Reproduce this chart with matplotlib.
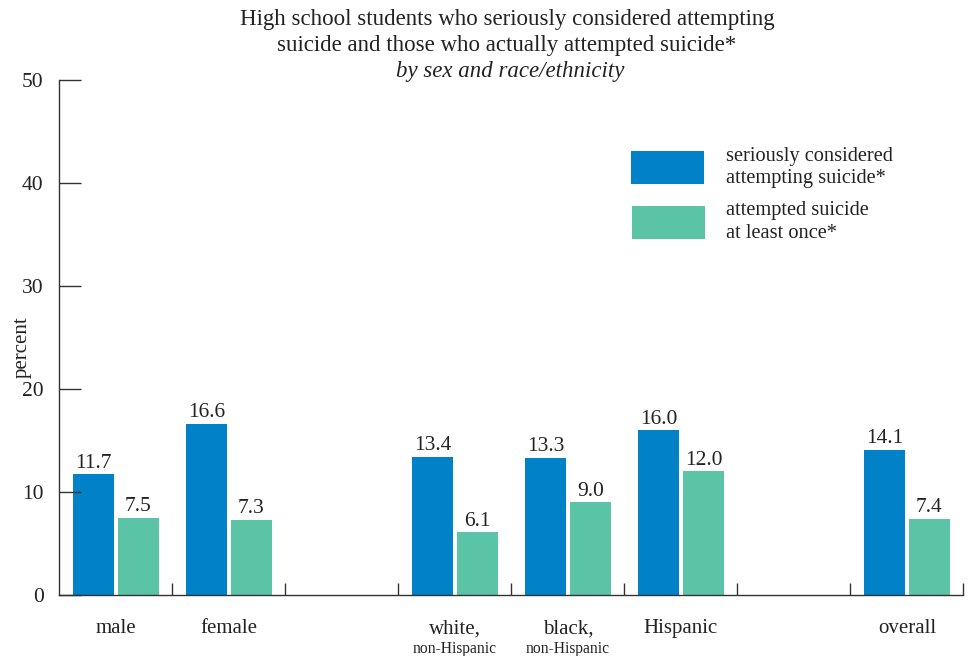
import matplotlib
matplotlib.use("Agg")
import matplotlib.pyplot as plt
from matplotlib.patches import Rectangle

categories = ["male", "female", "white,", "black,", "Hispanic", "overall"]
sublabels = ["", "", "non-Hispanic", "non-Hispanic", "", ""]
slots = [0, 1, 3, 4, 5, 7]
considered = [11.7, 16.6, 13.4, 13.3, 16.0, 14.1]
attempted = [7.5, 7.3, 6.1, 9.0, 12.0, 7.4]
yticks = [0, 10, 20, 30, 40, 50]

BLUE = "#0081C8"
GREEN = "#5BC4A6"
TXT = "#222222"
FONT = "Liberation Serif"

plt.rcParams["font.family"] = FONT
fig = plt.figure(figsize=(9.71, 6.56), dpi=100)
ax = fig.add_axes([59/971, 1-595/656, (963-59)/971, (595-80)/656])

bw = 0.363
off1 = 0.124
off2 = 0.522
for s, v1, v2 in zip(slots, considered, attempted):
    ax.bar(s + off1, v1, width=bw, align="edge", color=BLUE, linewidth=0)
    ax.bar(s + off2, v2, width=bw, align="edge", color=GREEN, linewidth=0)
    ax.text(s + off1 + bw/2, v1 + 0.15, f"{v1:.1f}", ha="center", va="bottom",
            fontsize=15.5, color=TXT)
    ax.text(s + off2 + bw/2, v2 + 0.15, f"{v2:.1f}", ha="center", va="bottom",
            fontsize=15.5, color=TXT)

ax.set_xlim(0, 8)
ax.set_ylim(0, 50)
ax.set_yticks(yticks)
ax.set_yticklabels([str(t) for t in yticks], fontsize=15.5, color=TXT)
ax.set_xticks(range(1, 9))
ax.set_xticklabels([])
ax.tick_params(axis="y", direction="in", length=16, width=1, color="#333333", pad=11)
ax.tick_params(axis="x", direction="in", length=9, width=1, color="#333333")
for sp in ["top", "right"]:
    ax.spines[sp].set_visible(False)
for sp in ["left", "bottom"]:
    ax.spines[sp].set_color("#333333")
    ax.spines[sp].set_linewidth(1)

ax.set_ylabel("percent", fontsize=15, color=TXT)
ax.yaxis.set_label_coords((32-59)/904, 0.482)

for s, c, sub in zip(slots, categories, sublabels):
    ax.text(s + 0.504, -3.3, c, ha="center", va="center", fontsize=15, color=TXT,
            clip_on=False)
    if sub:
        ax.text(s + 0.504, -5.2, sub, ha="center", va="center", fontsize=11.2, color=TXT,
                clip_on=False)

fig.text(507/971, 1-19/656, "High school students who seriously considered attempting",
         ha="center", va="center", fontsize=16.5, color=TXT)
fig.text(507/971, 1-45/656, "suicide and those who actually attempted suicide*",
         ha="center", va="center", fontsize=16.5, color=TXT)
fig.text(510/971, 1-71/656, "by sex and race/ethnicity",
         ha="center", va="center", fontsize=16.5, color=TXT, style="italic")

# legend
fig.patches.append(Rectangle((631/971, 1-184/656), 73/971, 33/656,
                             transform=fig.transFigure, color=BLUE, linewidth=0))
fig.patches.append(Rectangle((632/971, 1-239/656), 73/971, 33/656,
                             transform=fig.transFigure, color=GREEN, linewidth=0))
fig.text(726/971, 1-156/656, "seriously considered", fontsize=14.7, color=TXT, va="center")
fig.text(726/971, 1-178/656, "attempting suicide*", fontsize=14.7, color=TXT, va="center")
fig.text(726/971, 1-211/656, "attempted suicide", fontsize=14.7, color=TXT, va="center")
fig.text(726/971, 1-233/656, "at least once*", fontsize=14.7, color=TXT, va="center")

fig.savefig("out.png", dpi=100)
